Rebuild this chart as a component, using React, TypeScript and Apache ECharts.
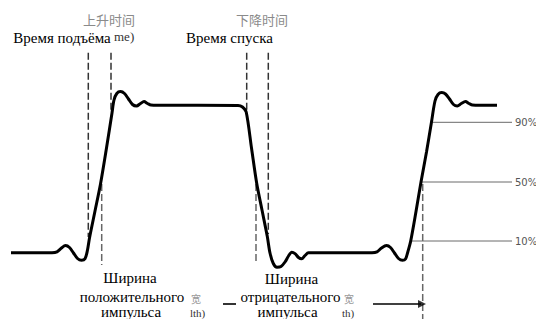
import React, { useEffect, useRef } from "react";
import * as echarts from "echarts";

// Waveform samples in chart units (x: time, y: screen level axis, inverted)
const waveform: [number, number][] = [
  [11, 252.7], [52, 252.7], [57, 251.8], [61.5, 248], [65.5, 245.6], [69.5, 247.5], [73.5, 253],
  [77.5, 258.5], [81.5, 260.3], [85, 258.8], [87.5, 250], [89.5, 238], [95, 211], [100.5, 184],
  [106.5, 148], [112, 113], [114, 100], [116.8, 93.5], [120.5, 91.6], [124.5, 93.5], [128.5, 99],
  [132.5, 104.5], [136.5, 106], [140.5, 103.5], [144, 101.6], [147.5, 103.5], [151, 105], [158, 105.2],
  [238, 105.4], [242.5, 107], [246.2, 112], [251.5, 148], [256.7, 183.3], [262, 210], [267.3, 236.5],
  [270, 253], [273.3, 263.5], [277, 267.2], [281, 266.5], [285, 262], [288.5, 256], [291.8, 252.2],
  [295, 253.6], [298.5, 257.5], [301.7, 258.8], [305, 255.5], [308.5, 252.8], [315, 252.7],
  [372, 252.7], [377, 251.8], [381.5, 248], [386.5, 245.6], [390.5, 247.5], [394.5, 253],
  [398.5, 258.5], [402.5, 260.3], [405.5, 259], [407.8, 252], [410.7, 241], [416, 211.5],
  [421, 182], [426.5, 152], [431.5, 122], [435, 101], [438, 94.5], [441.7, 92.6], [445.5, 94],
  [449.5, 99], [453.5, 104.5], [457.3, 106], [461.3, 103.5], [465.5, 101.6], [469, 103.5],
  [472.5, 105], [480, 105.2], [497, 105.2],
];

// Vertical dashed guides: [x, yStart, yEnd]
const timingGuides: [number, number, number][] = [
  [88.3, 52.7, 237],
  [111, 52.7, 112],
  [246.7, 52.7, 110],
  [268.3, 52.7, 234],
];
const widthGuides: [number, number, number][] = [
  [101.7, 184, 265],
  [256, 184, 264],
  [422.7, 184, 319],
];

// Threshold levels: [label, y, xStart, xEnd]
const levels: [string, number, number, number][] = [
  ["90%", 122.3, 433, 512],
  ["50%", 182, 422, 512],
  ["10%", 241, 412, 512],
];

// Arrow / bracket segments at the bottom: [x0, x1, y]
const arrowStub: [number, number, number] = [223, 236, 304];
const arrowMain: [number, number, number] = [373, 425, 304];

const topLabelsRu = ["Время подъёма", "Время спуска"];
const topLabelsZh = ["上升时间", "下降时间"];
const posWidthLines = ["Ширина", "положительного", "импульса"];
const negWidthLines = ["Ширина", "отрицательного", "импульса"];

export default function App() {
  const ref = useRef<HTMLDivElement>(null);
  useEffect(() => {
    document.body.style.margin = "0";
    if (!ref.current) return;
    const chart = echarts.init(ref.current, null, { renderer: "svg" });
    const serif = '"Liberation Serif", "DejaVu Serif", serif';
    const cjk = '"Noto Sans CJK SC", sans-serif';

    const series: any[] = [];
    series.push({
      type: "line",
      data: waveform,
      symbol: "none",
      smooth: 0.3,
      lineStyle: { color: "#000", width: 3 },
      z: 5,
      silent: true,
    });
    timingGuides.forEach(([x, y0, y1]) => {
      series.push({
        type: "line",
        data: [[x, y0], [x, y1]],
        symbol: "none",
        lineStyle: { color: "#333", width: 1.5, type: [7, 3] },
        silent: true,
      });
    });
    widthGuides.forEach(([x, y0, y1]) => {
      series.push({
        type: "line",
        data: [[x, y0], [x, y1]],
        symbol: "none",
        lineStyle: { color: "#666", width: 1.5, type: [7, 3] },
        silent: true,
      });
    });
    levels.forEach(([, y, x0, x1]) => {
      series.push({
        type: "line",
        data: [[x0, y], [x1, y]],
        symbol: "none",
        lineStyle: { color: "#6a6a6a", width: 1 },
        silent: true,
      });
    });
    series.push({
      type: "line",
      data: [[arrowStub[0], arrowStub[2]], [arrowStub[1], arrowStub[2]]],
      symbol: "none",
      lineStyle: { color: "#000", width: 1.6 },
      silent: true,
    });
    series.push({
      type: "line",
      data: [[arrowMain[0], arrowMain[2]], [arrowMain[1] - 4, arrowMain[2]]],
      symbol: "none",
      lineStyle: { color: "#000", width: 1.6 },
      silent: true,
    });
    series.push({
      type: "scatter",
      data: [[arrowMain[1] - 3, arrowMain[2]]],
      symbol: "triangle",
      symbolRotate: -90,
      symbolSize: [8, 8],
      itemStyle: { color: "#000" },
      silent: true,
      z: 6,
    });

    const txt = (text: string, x: number, y: number, font: string, fill: string, align = "center") => ({
      type: "text",
      x,
      y,
      silent: true,
      style: { text, font, fill, align, verticalAlign: "middle" },
    });

    const graphic: any[] = [
      txt(topLabelsZh[0], 109, 19, `13px ${cjk}`, "#8a8a8a"),
      txt(topLabelsZh[1], 262, 19, `13px ${cjk}`, "#8a8a8a"),
      txt(topLabelsRu[0], 62, 38, `15px ${serif}`, "#000"),
      txt("me)", 114, 36, `13px ${serif}`, "#333", "left"),
      txt(topLabelsRu[1], 229.5, 38, `15px ${serif}`, "#000"),
      txt(posWidthLines[0], 130, 278, `15px ${serif}`, "#000"),
      txt(posWidthLines[1], 132, 296.5, `15px ${serif}`, "#000"),
      txt(posWidthLines[2], 131, 311.5, `15px ${serif}`, "#000"),
      txt("宽", 191, 298, `10px ${cjk}`, "#999", "left"),
      txt("lth)", 190, 312.5, `11px ${serif}`, "#333", "left"),
      txt(negWidthLines[0], 291.5, 278.5, `15px ${serif}`, "#000"),
      txt(negWidthLines[1], 290.5, 297, `15px ${serif}`, "#000"),
      txt(negWidthLines[2], 287.5, 311.5, `15px ${serif}`, "#000"),
      txt("宽", 344, 298, `10px ${cjk}`, "#999", "left"),
      txt("th)", 342, 312.5, `11px ${serif}`, "#333", "left"),
      ...levels.map(([label, y]) => txt(label, 515, y, `10px "DejaVu Sans", sans-serif`, "#555", "left")),
    ];

    chart.setOption({
      animation: false,
      backgroundColor: "#fff",
      grid: { left: 0, right: 0, top: 0, bottom: 0, containLabel: false },
      xAxis: { type: "value", min: 0, max: 536, show: false },
      yAxis: { type: "value", min: 0, max: 319, inverse: true, show: false },
      series,
      graphic,
    });
    return () => chart.dispose();
  }, []);
  return <div ref={ref} style={{ width: 536, height: 319 }} />;
}
